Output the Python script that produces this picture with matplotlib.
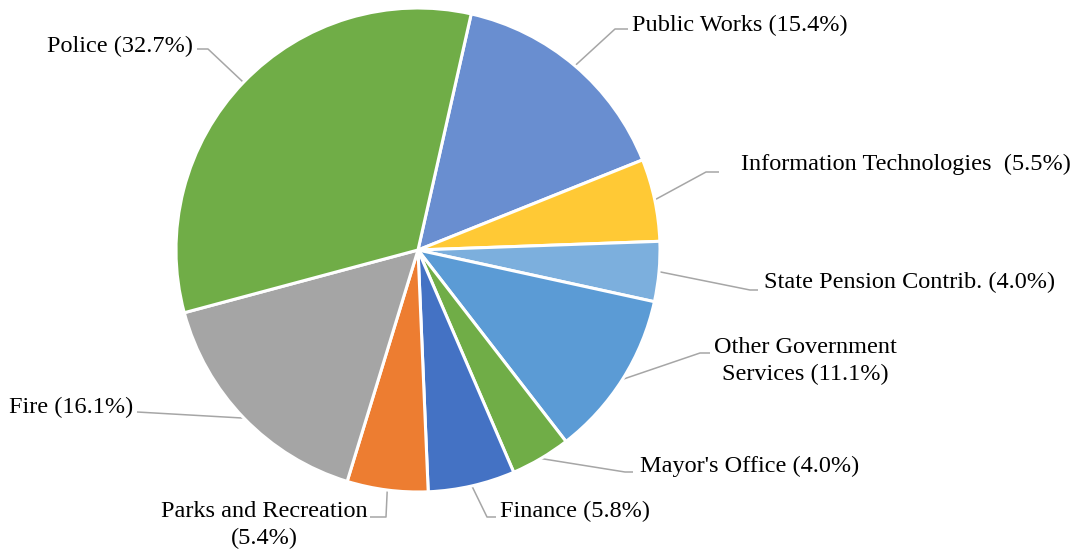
import matplotlib.pyplot as plt
import numpy as np

plt.rcParams['font.family'] = ['Liberation Serif', 'DejaVu Serif']
FONT_SIZE = 17.5

# data
departments = ['Public Works', 'Information Technologies', 'State Pension Contrib.',
               'Other Government Services', "Mayor's Office", 'Finance',
               'Parks and Recreation', 'Fire', 'Police']
shares = [15.4, 5.5, 4.0, 11.1, 4.0, 5.8, 5.4, 16.1, 32.7]
label_texts = ['Public Works (15.4%)', 'Information Technologies  (5.5%)',
               'State Pension Contrib. (4.0%)', 'Other Government\nServices (11.1%)',
               "Mayor's Office (4.0%)", 'Finance (5.8%)',
               'Parks and Recreation\n(5.4%)', 'Fire (16.1%)', 'Police (32.7%)']
colors = ['#698ED0', '#FFC935', '#7CAFDD', '#5B9BD5', '#70AD47',
          '#4472C4', '#ED7D31', '#A5A5A5', '#70AD47']

W, H = 1077, 550
fig = plt.figure(figsize=(W / 100, H / 100), dpi=100)
ax = fig.add_axes([0, 0, 1, 1])

cx, cy, R = 418, H - 250, 242
wedges, _ = ax.pie(shares, colors=colors, startangle=77.3, counterclock=False,
                   center=(cx, cy), radius=R, frame=True,
                   wedgeprops=dict(edgecolor='white', linewidth=2.2))
ax.set_xlim(0, W)
ax.set_ylim(0, H)
ax.set_aspect('equal')
ax.axis('off')

# label layout in pixel coords (from top): elbow, line end, text pos, ha, va
layout = [
    ((615, 29), (628, 29), (632, 31), 'left', 'baseline'),
    ((706, 172), (719, 172), (741, 170), 'left', 'baseline'),
    ((750, 290), (758, 290), (764, 288), 'left', 'baseline'),
    ((700, 353), (710, 353), (805, 361), 'center', 'center'),
    ((625, 472), (633, 472), (640, 472), 'left', 'baseline'),
    ((487, 517), (496, 517), (500, 517), 'left', 'baseline'),
    ((386, 517), (370, 517), (264, 525), 'center', 'center'),
    ((137, 412), (137, 412), (133, 413), 'right', 'baseline'),
    ((208, 49), (197, 49), (193, 52), 'right', 'baseline'),
]

for w, txt, (elbow, end, tpos, ha, va) in zip(wedges, label_texts, layout):
    ang = np.deg2rad((w.theta1 + w.theta2) / 2)
    px = cx + R * np.cos(ang)
    py = cy + R * np.sin(ang)
    ax.plot([px, elbow[0], end[0]], [py, H - elbow[1], H - end[1]],
            color='#A6A6A6', linewidth=1.1, solid_capstyle='butt', zorder=0.5)
    ax.text(tpos[0], H - tpos[1], txt, ha=ha, va=va, fontsize=FONT_SIZE,
            multialignment='center', linespacing=1.35, color='black')

fig.savefig('out.png', dpi=100)
